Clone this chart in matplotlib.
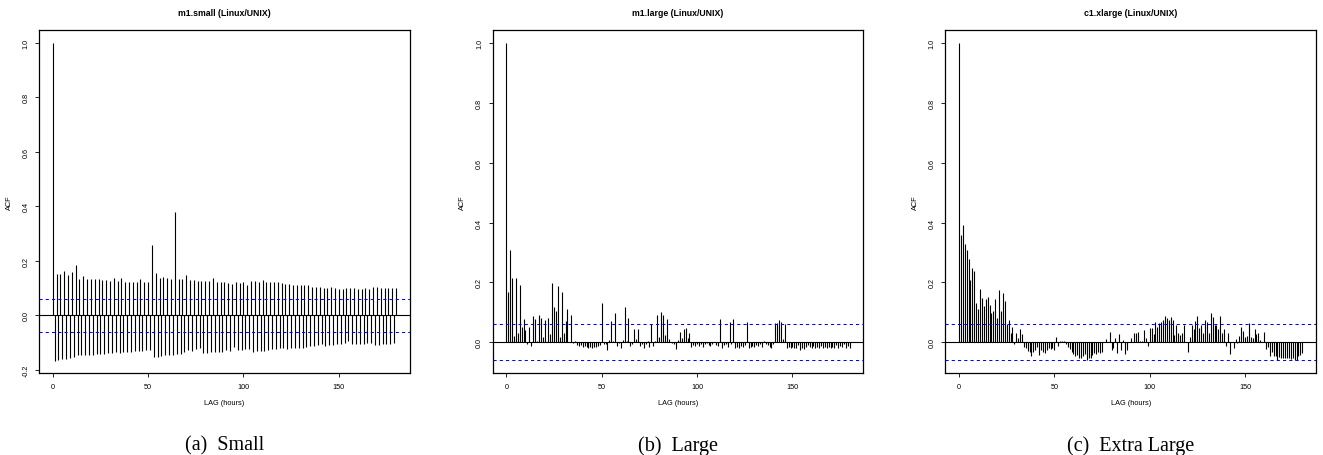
import numpy as np
import matplotlib
matplotlib.use("Agg")
import matplotlib.pyplot as plt

plt.rcParams['font.family'] = ['Liberation Sans', 'DejaVu Sans']

# ACF values per lag (0..180 hours)
acf_small = [
    1.0,
    -0.166, 0.153, -0.163, 0.153, -0.160, 0.163, -0.160, 0.150, -0.158, 0.161,
    -0.152, 0.186, -0.144, 0.135, -0.146, 0.146, -0.145, 0.134, -0.145, 0.134,
    -0.144, 0.132, -0.141, 0.132, -0.141, 0.129, -0.140, 0.129, -0.138, 0.128,
    -0.139, 0.139, -0.136, 0.125, -0.138, 0.139, -0.135, 0.124, -0.135, 0.124,
    -0.134, 0.124, -0.132, 0.121, -0.132, 0.132, -0.129, 0.124, -0.128, 0.121,
    -0.127, 0.259, -0.151, 0.157, -0.151, 0.136, -0.149, 0.140, -0.146, 0.136,
    -0.144, 0.135, -0.145, 0.378, -0.143, 0.133, -0.140, 0.133, -0.133, 0.149,
    -0.128, 0.130, -0.129, 0.129, -0.123, 0.128, -0.121, 0.128, -0.138, 0.127,
    -0.138, 0.125, -0.136, 0.139, -0.135, 0.124, -0.135, 0.124, -0.133, 0.121,
    -0.128, 0.119, -0.131, 0.117, -0.117, 0.121, -0.128, 0.118, -0.128, 0.121,
    -0.125, 0.111, -0.123, 0.127, -0.134, 0.128, -0.132, 0.122, -0.131, 0.129,
    -0.130, 0.122, -0.128, 0.122, -0.124, 0.122, -0.124, 0.124, -0.120, 0.119,
    -0.120, 0.117, -0.125, 0.116, -0.120, 0.113, -0.119, 0.113, -0.119, 0.112,
    -0.118, 0.113, -0.115, 0.110, -0.113, 0.106, -0.113, 0.106, -0.110, 0.104,
    -0.104, 0.102, -0.111, 0.102, -0.110, 0.104, -0.107, 0.099, -0.105, 0.097,
    -0.104, 0.097, -0.101, 0.100, -0.093, 0.099, -0.105, 0.099, -0.105, 0.098,
    -0.104, 0.098, -0.104, 0.099, -0.100, 0.098, -0.103, 0.103, -0.109, 0.103,
    -0.108, 0.102, -0.104, 0.101, -0.104, 0.102, -0.104, 0.101, -0.101, 0.101,
]

acf_large = [
    1.0,
    0.167, 0.310, 0.216, 0.022, 0.216, 0.030, 0.192, 0.050, 0.077, 0.041,
    -0.007, 0.052, -0.013, 0.088, 0.077, 0.005, 0.092, 0.083, 0.018, 0.074,
    0.002, 0.082, 0.029, 0.197, 0.117, 0.104, 0.188, 0.017, 0.167, 0.030,
    0.072, 0.112, 0.002, 0.090, -0.002, 0.005, -0.008, -0.013, -0.010, -0.015,
    -0.012, -0.017, -0.018, -0.015, -0.018, -0.015, -0.016, -0.012, -0.008, 0.133,
    -0.007, -0.005, -0.025, 0.008, 0.072, 0.004, 0.097, -0.013, -0.003, -0.020,
    0.008, 0.117, 0.004, 0.081, -0.011, -0.005, 0.043, 0.010, 0.043, -0.011,
    -0.007, -0.020, -0.007, 0.005, -0.015, 0.060, -0.011, 0.005, 0.091, 0.017,
    0.100, 0.090, 0.023, 0.079, 0.010, 0.002, -0.003, -0.005, -0.022, 0.008,
    0.033, 0.013, 0.044, 0.047, 0.013, 0.030, -0.017, -0.009, -0.011, -0.007,
    -0.012, -0.007, -0.016, -0.007, -0.003, -0.010, -0.012, -0.007, 0.002, -0.009,
    -0.012, 0.077, -0.020, -0.009, -0.007, -0.014, 0.069, -0.005, 0.077, -0.020,
    -0.015, -0.020, -0.011, -0.015, -0.009, 0.069, -0.018, -0.015, -0.011, -0.015,
    -0.009, -0.011, -0.007, -0.014, 0.005, -0.007, -0.009, -0.015, -0.020, -0.007,
    0.066, 0.066, 0.074, 0.069, 0.010, 0.060, -0.020, -0.015, -0.018, -0.015,
    -0.020, -0.018, -0.009, -0.026, -0.020, -0.022, -0.015, -0.009, -0.015, -0.018,
    -0.011, -0.018, -0.015, -0.020, -0.011, -0.020, -0.015, -0.018, -0.015, -0.020,
    -0.015, -0.018, -0.009, -0.020, -0.011, -0.015, -0.007, -0.018, -0.011, -0.020,
]

acf_xlarge = [
    1.0,
    0.358, 0.393, 0.330, 0.307, 0.280, 0.208, 0.249, 0.238, 0.133, 0.113,
    0.177, 0.147, 0.121, 0.144, 0.150, 0.124, 0.097, 0.104, 0.144, 0.083,
    0.174, 0.104, 0.166, 0.138, 0.063, 0.074, 0.030, 0.052, -0.004, 0.032,
    0.016, 0.044, 0.028, -0.014, -0.020, -0.029, -0.033, -0.044, -0.031, -0.026,
    -0.014, -0.042, -0.026, -0.033, -0.037, -0.026, -0.020, -0.022, -0.020, -0.026,
    0.019, -0.011, 0.004, 0.003, 0.006, -0.007, -0.014, -0.022, -0.031, -0.040,
    -0.044, -0.042, -0.053, -0.051, -0.044, -0.040, -0.059, -0.051, -0.053, -0.042,
    -0.037, -0.040, -0.033, -0.037, -0.031, 0.000, 0.010, 0.000, 0.033, -0.025,
    -0.020, 0.015, -0.035, 0.027, -0.027, 0.008, -0.040, -0.025, 0.000, 0.015,
    0.002, 0.032, 0.032, 0.034, 0.004, 0.004, 0.040, 0.013, -0.011, 0.047,
    0.047, 0.028, 0.067, 0.051, 0.066, 0.067, 0.074, 0.089, 0.082, 0.074,
    0.084, 0.074, 0.024, 0.058, 0.032, 0.024, 0.032, 0.058, 0.002, -0.031,
    0.019, 0.058, 0.043, 0.072, 0.089, 0.047, 0.058, 0.032, 0.074, 0.067,
    0.032, 0.097, 0.086, 0.058, 0.058, 0.043, 0.087, 0.032, 0.043, -0.011,
    0.032, -0.039, 0.002, -0.018, 0.011, -0.003, 0.022, 0.052, 0.038, 0.019,
    0.020, 0.066, 0.019, 0.016, 0.044, 0.027, 0.030, 0.008, 0.002, 0.033,
    -0.022, -0.015, -0.046, -0.031, -0.044, -0.046, -0.059, -0.048, -0.051, -0.051,
    -0.053, -0.051, -0.053, -0.056, -0.051, -0.059, -0.059, -0.044, -0.042, -0.037,
]

titles = ['m1.small (Linux/UNIX)', 'm1.large (Linux/UNIX)', 'c1.xlarge (Linux/UNIX)']
captions = ['(a)  Small', '(b)  Large', '(c)  Extra Large']
conf_level = 0.06
x_ticks = [0, 50, 100, 150]

series = [acf_small, acf_large, acf_xlarge]
lefts = [0.0295, 0.3724, 0.7145]
ylims = [(-0.211, 1.047), (-0.102, 1.043), (-0.102, 1.043)]
yticks = [[-0.2, 0.0, 0.2, 0.4, 0.6, 0.8, 1.0], [0.0, 0.2, 0.4, 0.6, 0.8, 1.0], [0.0, 0.2, 0.4, 0.6, 0.8, 1.0]]

fig = plt.figure(figsize=(13.23, 4.56), dpi=100)

for i in range(3):
    vals = np.array(series[i])
    lags = np.arange(len(vals))
    ax = fig.add_axes([lefts[i], 0.180, 0.2802, 0.752])
    ax.vlines(lags, 0, vals, color='black', linewidth=0.8, zorder=2)
    ax.axhline(0, color='black', linewidth=0.8, zorder=3)
    # confidence bounds drawn on top of the bars, like R's acf plot
    ax.axhline(conf_level, color='blue', linewidth=0.75, linestyle=(0, (3, 3)), zorder=4)
    ax.axhline(-conf_level, color='blue', linewidth=0.75, linestyle=(0, (3, 3)), zorder=4)
    ax.set_xlim(-7.2, 187.2)
    ax.set_ylim(*ylims[i])
    ax.set_xticks(x_ticks)
    ax.set_xticklabels([str(t) for t in x_ticks])
    ax.set_yticks(yticks[i])
    ax.set_yticklabels(['%.1f' % t for t in yticks[i]], rotation=90, va='center')
    ax.tick_params(direction='out', length=3, width=0.6, labelsize=5.2, pad=4)
    for s in ax.spines.values():
        s.set_linewidth(0.9)
    ax.set_title(titles[i], fontsize=6.3, fontweight='bold', pad=11)
    ax.set_xlabel('LAG (hours)', fontsize=5.3, labelpad=7)
    ax.set_ylabel('ACF', fontsize=5.3, labelpad=7)
    fig.text(lefts[i] + 0.1401, 0.011, captions[i], ha='center', va='baseline',
             fontsize=14.5, family=['Liberation Serif', 'DejaVu Serif'])

fig.savefig('out.png', dpi=100)
